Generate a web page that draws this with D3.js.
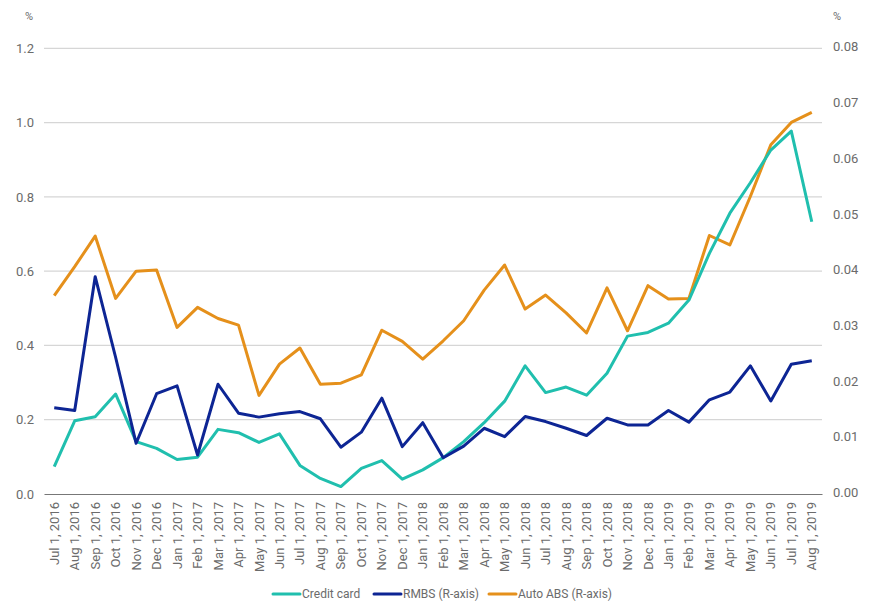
<!DOCTYPE html>
<html>
<head>
<meta charset="utf-8">
<script src="https://cdn.jsdelivr.net/npm/d3@7"></script>
<style>
  html, body { margin: 0; padding: 0; background: #fff; }
  svg { display: block; font-family: Roboto, "Noto Sans", sans-serif; }
</style>
</head>
<body>
<svg id="chart" width="871" height="610"></svg>
<script>
const categories = [
  "Jul 1, 2016","Aug 1, 2016","Sep 1, 2016","Oct 1, 2016","Nov 1, 2016","Dec 1, 2016",
  "Jan 1, 2017","Feb 1, 2017","Mar 1, 2017","Apr 1, 2017","May 1, 2017","Jun 1, 2017",
  "Jul 1, 2017","Aug 1, 2017","Sep 1, 2017","Oct 1, 2017","Nov 1, 2017","Dec 1, 2017",
  "Jan 1, 2018","Feb 1, 2018","Mar 1, 2018","Apr 1, 2018","May 1, 2018","Jun 1, 2018",
  "Jul 1, 2018","Aug 1, 2018","Sep 1, 2018","Oct 1, 2018","Nov 1, 2018","Dec 1, 2018",
  "Jan 1, 2019","Feb 1, 2019","Mar 1, 2019","Apr 1, 2019","May 1, 2019","Jun 1, 2019",
  "Jul 1, 2019","Aug 1, 2019"
];

// Left axis (%)
const creditCard = [
  0.074, 0.197, 0.208, 0.269, 0.141, 0.123, 0.093, 0.099, 0.174, 0.165, 0.139, 0.162,
  0.077, 0.042, 0.020, 0.069, 0.090, 0.040, 0.065, 0.098, 0.141, 0.192, 0.250, 0.345,
  0.273, 0.288, 0.266, 0.325, 0.425, 0.435, 0.460, 0.522, 0.648, 0.756, 0.838, 0.926,
  0.977, 0.733
];

// Right axis (%)
const rmbs = [
  0.0155, 0.0150, 0.0390, 0.0245, 0.0091, 0.0180, 0.0194, 0.0070, 0.0197, 0.0145, 0.0138, 0.0144,
  0.0148, 0.0135, 0.0084, 0.0111, 0.0172, 0.0085, 0.0128, 0.0065, 0.0086, 0.0118, 0.0103, 0.0139,
  0.0130, 0.0118, 0.0105, 0.0136, 0.0124, 0.0124, 0.0150, 0.0129, 0.0169, 0.0183, 0.0230, 0.0167,
  0.0233, 0.0239
];

const autoAbs = [
  0.0356, 0.0408, 0.0463, 0.0351, 0.0400, 0.0402, 0.0299, 0.0335, 0.0315, 0.0303, 0.0177, 0.0233,
  0.0262, 0.0197, 0.0199, 0.0214, 0.0294, 0.0274, 0.0242, 0.0275, 0.0311, 0.0366, 0.0411, 0.0332,
  0.0357, 0.0325, 0.0289, 0.0370, 0.0293, 0.0374, 0.0350, 0.0351, 0.0464, 0.0447, 0.0534, 0.0627,
  0.0667, 0.0685
];

const leftTicks = [0, 0.2, 0.4, 0.6, 0.8, 1.0, 1.2];
const rightTicks = [0, 0.01, 0.02, 0.03, 0.04, 0.05, 0.06, 0.07, 0.08];

const seriesNames = ["Credit card", "RMBS (R-axis)", "Auto ABS (R-axis)"];
const seriesColors = ["#20bfae", "#0d2594", "#e5901b"];

const svg = d3.select("#chart");
const textColor = "#6b6b6b";

const x = d3.scaleBand().domain(categories).range([44, 822]);
const xc = d => x(d) + x.bandwidth() / 2;
const yL = d3.scaleLinear().domain([0, 1.2]).range([494, 48.3]);
const yR = d3.scaleLinear().domain([0, 0.08]).range([494, 48.3]);

// gridlines
svg.append("g")
  .selectAll("line")
  .data(leftTicks.filter(t => t > 0))
  .join("line")
  .attr("x1", 44).attr("x2", 822)
  .attr("y1", d => yL(d)).attr("y2", d => yL(d))
  .attr("stroke", "#d6d6d6").attr("stroke-width", 1.2);

// left axis
const gL = svg.append("g").attr("transform", "translate(44,0)")
  .call(d3.axisLeft(yL).tickValues(leftTicks).tickFormat(d3.format(".1f")).tickSize(0).tickPadding(10));
gL.select(".domain").remove();
gL.selectAll("text").attr("fill", textColor).style("font-size", "13px").style("font-family", "Roboto");

// right axis
const gR = svg.append("g").attr("transform", "translate(822,0)")
  .call(d3.axisRight(yR).tickValues(rightTicks).tickFormat(d3.format(".2f")).tickSize(0).tickPadding(11));
gR.select(".domain").remove();
gR.selectAll("text").attr("fill", textColor).style("font-size", "13px").style("font-family", "Roboto")
  .attr("dy", "0.2em");

// unit labels
svg.append("text").attr("x", 33).attr("y", 20).attr("text-anchor", "end")
  .attr("fill", textColor).style("font-size", "11px").text("%");
svg.append("text").attr("x", 833).attr("y", 20).attr("text-anchor", "start")
  .attr("fill", textColor).style("font-size", "11px").text("%");

// x axis
const gX = svg.append("g").attr("transform", "translate(0,494)")
  .call(d3.axisBottom(x).tickSize(0).tickPadding(0));
gX.select(".domain").attr("stroke", "#777").attr("stroke-width", 1.2);
gX.selectAll("text")
  .attr("fill", textColor).style("font-size", "13px").style("font-family", "Roboto")
  .attr("transform", "rotate(-90)")
  .attr("text-anchor", "end")
  .attr("x", -8).attr("y", 0).attr("dy", "0.35em");

// lines
const lineL = d3.line().x((d, i) => xc(categories[i])).y(d => yL(d));
const lineR = d3.line().x((d, i) => xc(categories[i])).y(d => yR(d));

svg.append("path").datum(autoAbs).attr("d", lineR)
  .attr("fill", "none").attr("stroke", seriesColors[2]).attr("stroke-width", 3).attr("stroke-linejoin", "round");
svg.append("path").datum(creditCard).attr("d", lineL)
  .attr("fill", "none").attr("stroke", seriesColors[0]).attr("stroke-width", 3).attr("stroke-linejoin", "round");
svg.append("path").datum(rmbs).attr("d", lineR)
  .attr("fill", "none").attr("stroke", seriesColors[1]).attr("stroke-width", 3).attr("stroke-linejoin", "round");

// legend
const legendX = [273, 374, 489];
const legend = svg.append("g");
seriesNames.forEach((name, i) => {
  legend.append("line")
    .attr("x1", legendX[i]).attr("x2", legendX[i] + 27)
    .attr("y1", 594).attr("y2", 594)
    .attr("stroke", seriesColors[i]).attr("stroke-width", 3).attr("stroke-linecap", "round");
  legend.append("text")
    .attr("x", legendX[i] + 29).attr("y", 594).attr("dy", "0.35em")
    .attr("fill", textColor).style("font-size", "12px").style("font-family", "Roboto")
    .text(name);
});
</script>
</body>
</html>
